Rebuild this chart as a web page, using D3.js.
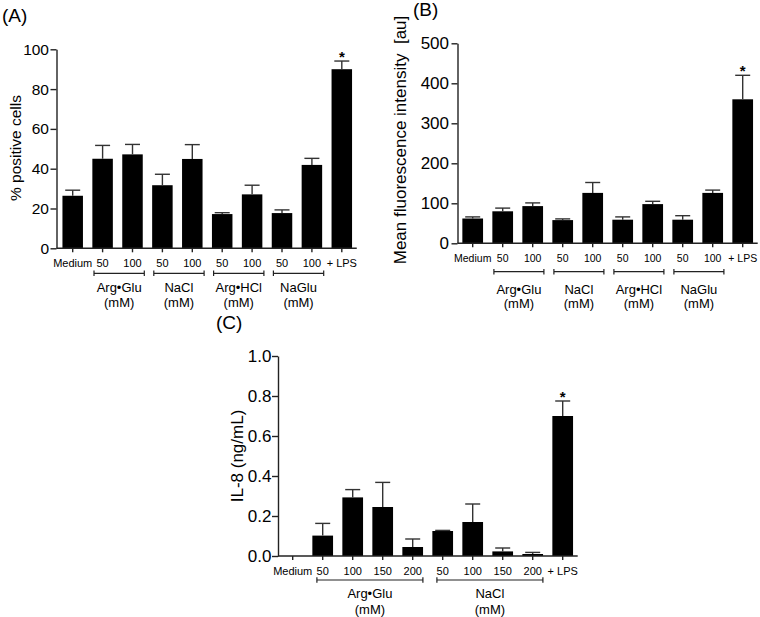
<!DOCTYPE html>
<html><head><meta charset="utf-8">
<script src="https://cdn.jsdelivr.net/npm/d3@7"></script>
<style>
body{margin:0;background:#fff;}
text{font-family:"Liberation Sans",Arial,Helvetica,sans-serif;fill:#000;}
</style>
</head><body>
<svg id="chart" width="760" height="617"></svg>
<script>
// ---------- data ----------
const ticksAB = ["Medium","50","100","50","100","50","100","50","100","+ LPS"];
const groupsAB = ["Arg\u2022Glu","NaCl","Arg\u2022HCl","NaGlu"];
const groupSpanAB = [[1,2],[3,4],[5,6],[7,8]];
const meanA = [26.4, 45.0, 47.2, 31.7, 44.9, 17.2, 27.1, 17.7, 41.9, 90.0];
const semA  = [2.8, 6.7, 5.0, 5.5, 7.2, 0.7, 4.6, 1.6, 3.3, 4.1];
const yTicksA = [0,20,40,60,80,100];

const meanB = [62, 80, 93, 58, 126, 59, 98, 59, 126, 360];
const semB  = [4, 8, 8, 3, 26, 7, 7, 10, 7, 60];
const yTicksB = [0,100,200,300,400,500];

const ticksC = ["Medium","50","100","150","200","50","100","150","200","+ LPS"];
const groupsC = ["Arg\u2022Glu","NaCl"];
const groupSpanC = [[1,4],[5,8]];
const meanC = [0, 0.102, 0.293, 0.245, 0.045, 0.125, 0.170, 0.023, 0.010, 0.700];
const semC  = [0, 0.061, 0.039, 0.123, 0.040, 0.003, 0.090, 0.017, 0.008, 0.075];
const yTicksC = [0,0.2,0.4,0.6,0.8,1.0];
const starIndex = 9;

// ---------- drawing ----------
const svg = d3.select("#chart");

function panel(cfg, d) {
  const g = svg.append("g");
  const n = d.ticks.length;
  const pad = 1 - cfg.bw / cfg.step;
  const start = cfg.c0 - cfg.step / 2;
  const x = d3.scaleBand().domain(d3.range(n))
    .range([start, start + n * cfg.step])
    .paddingInner(pad).paddingOuter(pad / 2);
  const cx = i => x(i) + x.bandwidth() / 2;
  const y = d3.scaleLinear().domain([0, cfg.max]).range([cfg.y0, cfg.y1]);

  // bars
  g.selectAll("rect.bar").data(d.mean.map((v, i) => ({v, i})).filter(o => o.v > 0))
    .join("rect").attr("class","bar")
    .attr("x", o => x(o.i)).attr("width", x.bandwidth())
    .attr("y", o => y(o.v)).attr("height", o => cfg.y0 - y(o.v))
    .attr("fill", "#000");

  // error bars
  const eb = d.mean.map((v, i) => ({v, s: d.sem[i], i})).filter(o => o.s > 0);
  g.selectAll("line.ev").data(eb).join("line")
    .attr("x1", o => cx(o.i)).attr("x2", o => cx(o.i))
    .attr("y1", o => y(o.v)).attr("y2", o => y(o.v + o.s))
    .attr("stroke", "#333").attr("stroke-width", 1.4);
  g.selectAll("line.ec").data(eb).join("line")
    .attr("x1", o => cx(o.i) - 7.5).attr("x2", o => cx(o.i) + 7.5)
    .attr("y1", o => y(o.v + o.s)).attr("y2", o => y(o.v + o.s))
    .attr("stroke", "#333").attr("stroke-width", 1.4);

  // star
  const si = starIndex;
  g.append("text").attr("x", cx(si)).attr("y", y(d.mean[si] + d.sem[si]) + 0.5)
    .attr("text-anchor","middle").attr("font-size", 15).attr("font-weight","bold").text("*");

  // y axis
  const ya = d3.axisLeft(y).tickValues(cfg.yTicks).tickSize(6).tickPadding(cfg.yPad)
    .tickSizeOuter(0).tickFormat(cfg.fmt);
  const yg = g.append("g").attr("transform", `translate(${cfg.axisX},0)`).call(ya);
  yg.selectAll("text").attr("font-size", cfg.yFont).style("font-family", '"Liberation Sans",Arial,sans-serif').attr("fill","#000");
  yg.selectAll("line,path").attr("stroke", "#222").attr("stroke-width", 1.4);

  // x axis
  const xa = d3.axisBottom(x).tickSize(4).tickPadding(7).tickSizeOuter(0)
    .tickFormat(i => d.ticks[i]);
  const xg = g.append("g").attr("transform", `translate(0,${cfg.y0})`).call(xa);
  xg.select("path.domain").attr("d", `M${cfg.axisX},0H${x.range()[1]}`);
  xg.selectAll("text").attr("font-size", cfg.xFont).style("font-family", '"Liberation Sans",Arial,sans-serif').attr("fill","#000");
  xg.selectAll("line,path").attr("stroke", "#222").attr("stroke-width", 1.4);

  // group brackets
  const by = cfg.y0 + cfg.bDy;
  d.groups.forEach((name, gi) => {
    const [a, b] = d.spans[gi];
    const lx = cx(a) - cfg.hw + cfg.shift, rx = cx(b) + cfg.hw + cfg.shift;
    const mid = (lx + rx) / 2;
    g.append("path")
      .attr("d", `M${lx},${by}H${rx}M${lx},${by-2.8}V${by+2.8}M${rx},${by-2.8}V${by+2.8}`)
      .attr("stroke", "#222").attr("stroke-width", 1.2).attr("fill","none");
    g.append("text").attr("x", mid).attr("y", by + cfg.g1Dy).attr("text-anchor","middle")
      .attr("font-size", 13).text(name);
    g.append("text").attr("x", mid).attr("y", by + cfg.g2Dy).attr("text-anchor","middle")
      .attr("font-size", 13).text("(mM)");
  });

  // y label
  svg.append("text").attr("transform", `translate(${cfg.ylx},${cfg.yly}) rotate(-90)`)
    .attr("text-anchor","middle").attr("dominant-baseline","central")
    .attr("font-size", cfg.ylFont).style("white-space","pre").text(cfg.ylabel);

  // panel title
  svg.append("text").attr("x", cfg.tx).attr("y", cfg.ty).attr("font-size", 19).text(cfg.title);
}

panel({axisX:56.5, y0:248.3, y1:49.3, max:100, c0:72.7, step:29.9, bw:20.5,
       yTicks:yTicksA, fmt:d3.format("d"), yFont:15.5, yPad:1.5, xFont:11,
       bDy:25, hw:10.2, shift:1.6, g1Dy:19, g2Dy:33.5,
       ylabel:"% positive cells", ylx:15, yly:148, ylFont:15.5,
       title:"(A)", tx:2, ty:22},
      {ticks:ticksAB, groups:groupsAB, spans:groupSpanAB, mean:meanA, sem:semA});

panel({axisX:457.5, y0:243.3, y1:43.3, max:500, c0:472.7, step:30, bw:20.7,
       yTicks:yTicksB, fmt:d3.format("d"), yFont:17, yPad:2.5, xFont:10.5,
       bDy:28.4, hw:10, shift:1.2, g1Dy:22, g2Dy:36,
       ylabel:"Mean fluorescence intensity  [au]", ylx:400.5, yly:140, ylFont:17,
       title:"(B)", tx:413, ty:16},
      {ticks:ticksAB, groups:groupsAB, spans:groupSpanAB, mean:meanB, sem:semB});

panel({axisX:278, y0:556, y1:356, max:1, c0:292.7, step:30, bw:20.7,
       yTicks:yTicksC, fmt:d3.format(".1f"), yFont:17, yPad:0.5, xFont:11,
       bDy:24, hw:8, shift:2.2, g1Dy:17.5, g2Dy:33.5,
       ylabel:"IL-8 (ng/mL)", ylx:237.5, yly:456, ylFont:17,
       title:"(C)", tx:216, ty:329},
      {ticks:ticksC, groups:groupsC, spans:groupSpanC, mean:meanC, sem:semC});
</script>
</body></html>
